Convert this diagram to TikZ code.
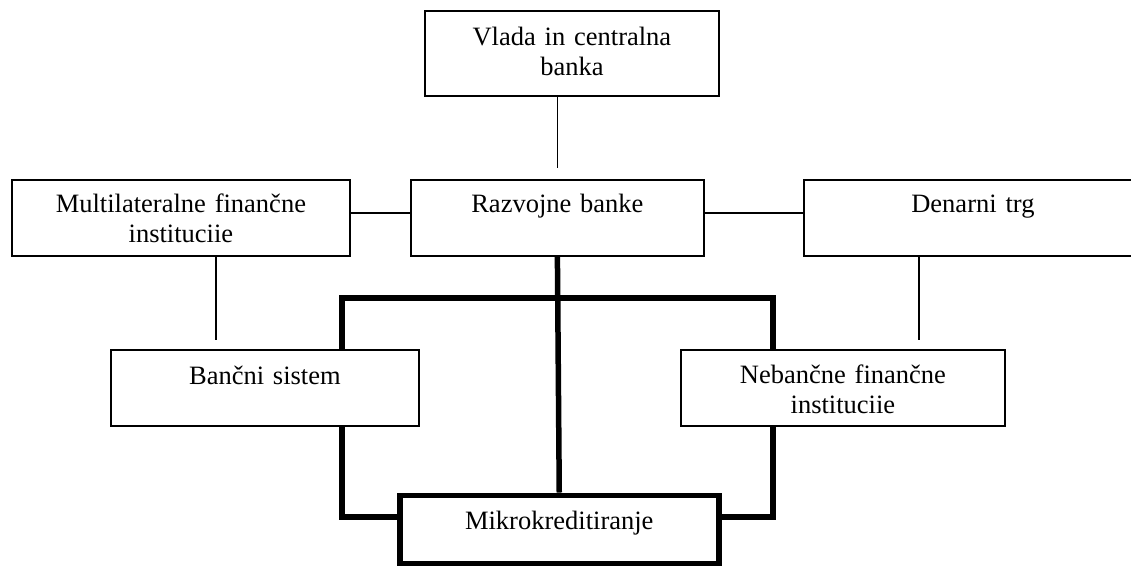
\documentclass[tikz,border=0pt]{standalone}
\usepackage{fontspec}
\setmainfont{Liberation Serif}
\begin{document}
\begin{tikzpicture}[x=1pt,y=-1pt,
  box/.style={draw, line width=1.8pt, fill=white, inner sep=0pt, anchor=north west,
    align=center, font=\fontsize{26.5}{30}\selectfont},
  heavybox/.style={box, line width=5.5pt},
  conn/.style={line width=1.8pt},
  heavy/.style={line width=5.5pt, line join=miter}]
\useasboundingbox (0,0) rectangle (1131,566);
% boxes
\node[box, text width=294pt, text height=35pt, text depth=50pt] (vlada) at (424,10) {Vlada in centralna\\banka};
\node[box, text width=338pt, text height=33pt, text depth=43pt] (multi) at (11,179) {Multilateralne finančne\\instituciie};
\node[box, text width=293pt, text height=33pt, text depth=43pt] (razvojne) at (410,179) {Razvojne banke};
\node[box, text width=338pt, text height=33pt, text depth=43pt] (denarni) at (803,179) {Denarni trg};
\node[box, text width=308pt, text height=35pt, text depth=41pt] (bancni) at (110,349) {Bančni sistem};
\node[box, text width=324pt, text height=34pt, text depth=42pt] (nebancne) at (680,349) {Nebančne finančne\\instituciie};
\node[heavybox, text width=319pt, text height=34.5pt, text depth=33.5pt] (mikro) at (397,492.5) {Mikrokreditiranje};
% thin connectors
\draw[conn, shorten >=11pt] (vlada.south -| razvojne.north) -- (razvojne.north);
\draw[conn] ([yshift=5pt]multi.east) -- ([yshift=5pt]razvojne.west);
\draw[conn] ([yshift=5pt]razvojne.east) -- ([yshift=5pt]denarni.west);
\draw[conn, shorten >=9pt] ([xshift=35pt]multi.south) -- ([xshift=35pt]multi.south |- bancni.north);
\draw[conn, shorten >=9pt] ([xshift=-54pt]denarni.south) -- ([xshift=-54pt]denarni.south |- nebancne.north);
% thick connectors
\coordinate (tl) at (342,298);
\coordinate (tr) at (773,298);
\coordinate (bl) at (342,517);
\coordinate (br) at (773,517);
\draw[heavy] (razvojne.south) -- (mikro.north);
\draw[heavy] (bancni.north -| tl) -- (tl) -- (tr) -- (nebancne.north -| tr);
\draw[heavy] (bancni.south -| bl) -- (bl) -- (bl -| mikro.west);
\draw[heavy] (nebancne.south -| br) -- (br) -- (br -| mikro.east);
\end{tikzpicture}
\end{document}
